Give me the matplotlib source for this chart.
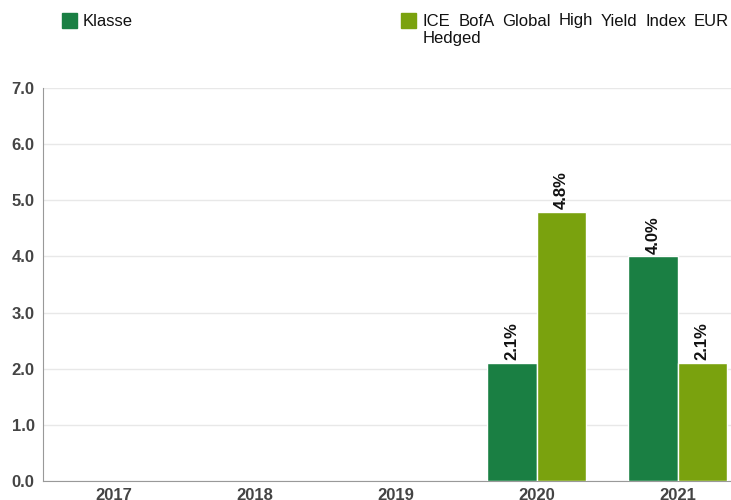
import matplotlib
matplotlib.use("Agg")
import matplotlib.pyplot as plt
import numpy as np

plt.rcParams['font.family'] = ['Liberation Sans', 'DejaVu Sans']

years = ["2017", "2018", "2019", "2020", "2021"]
klasse = [np.nan, np.nan, np.nan, 2.1, 4.0]
index_vals = [np.nan, np.nan, np.nan, 4.8, 2.1]
series_names = ["Klasse", "ICE BofA Global High Yield Index EUR", "Hedged"]
colors = ["#1a7f43", "#7aa20e"]
yticks = [0.0, 1.0, 2.0, 3.0, 4.0, 5.0, 6.0, 7.0]

W, H = 731, 500
fig = plt.figure(figsize=(W / 100, H / 100), dpi=100)
ax = fig.add_axes([43 / W, 1 - 481 / H, 1 - 43 / W, (481 - 88) / H])

x = np.arange(len(years))
bw = 0.35
for vals, off, col in [(klasse, -bw / 2, colors[0]), (index_vals, bw / 2, colors[1])]:
    ax.bar(x + off, vals, width=bw, color=col, edgecolor="white", linewidth=1, zorder=3)
    for xi, v in zip(x + off, vals):
        if not np.isnan(v):
            ax.text(xi, v + 0.05, f"{v:.1f}%", rotation=90, ha="center", va="bottom",
                    fontsize=12, fontweight="bold", color="#111111", zorder=4)

ax.set_xlim(-0.5, (W - 43) / 141 - 0.5)
ax.set_ylim(0, 7)
ax.set_yticks(yticks)
ax.set_yticklabels([f"{t:.1f}" for t in yticks])
ax.set_xticks(x)
ax.set_xticklabels(years)
ax.tick_params(axis="both", length=0, labelcolor="#444444")
ax.tick_params(axis="y", labelsize=12, pad=6)
ax.tick_params(axis="x", labelsize=12, pad=5)
for lab in ax.get_xticklabels() + ax.get_yticklabels():
    lab.set_fontweight("bold")
ax.grid(axis="y", color="#e8e8e8", linewidth=1, zorder=0)
for s in ["top", "right"]:
    ax.spines[s].set_visible(False)
ax.spines["left"].set_color("#999999")
ax.spines["bottom"].set_color("#999999")

# legend
lfs = 12
fig.patches.append(plt.Rectangle((62 / W, 1 - 28 / H), 15 / W, 15 / H, color=colors[0], transform=fig.transFigure))
fig.text(83 / W, 1 - 21 / H, series_names[0], fontsize=lfs, va="center", ha="left", color="#111111")
fig.patches.append(plt.Rectangle((401 / W, 1 - 28 / H), 15 / W, 15 / H, color=colors[1], transform=fig.transFigure))

# justified first line of second legend entry
words = series_names[1].split()
x0, x1 = 423, 729
renderer = fig.canvas.get_renderer()
tobjs = [fig.text(0, 1 - 21 / H, w, fontsize=lfs, va="center", ha="left", color="#111111") for w in words]
widths = [t.get_window_extent(renderer).width for t in tobjs]
gap = ((x1 - x0) - sum(widths)) / (len(words) - 1)
cx = x0
for t, w in zip(tobjs, widths):
    t.set_x(cx / W)
    cx += w + gap
fig.text(x0 / W, 1 - 38 / H, series_names[2], fontsize=lfs, va="center", ha="left", color="#111111")

fig.savefig("out.png", dpi=100)
